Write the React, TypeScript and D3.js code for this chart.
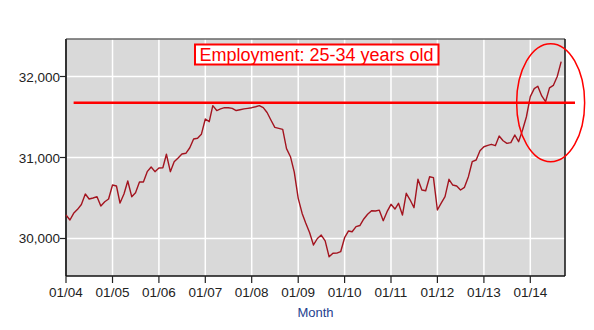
import React from "react";
import * as d3 from "d3";

// Monthly employment, 25-34 years old (thousands), Jan 2004 – Sep 2014
const startYear = 2004;
const values: number[] = [
  30290, 30228, 30311, 30360, 30420, 30549, 30488, 30500, 30516, 30401, 30454, 30488,
  30660, 30648, 30438, 30549, 30710, 30516, 30566, 30698, 30698, 30825, 30883, 30825,
  30870, 30874, 31040, 30825, 30948, 30994, 31043, 31052, 31120, 31228, 31237, 31286,
  31475, 31442, 31640, 31580, 31600, 31615, 31615, 31607, 31580, 31590, 31600, 31607,
  31615, 31627, 31640, 31615, 31555, 31460, 31372, 31360, 31348, 31110, 31010, 30820,
  30496, 30310, 30190, 30070, 29920, 30000, 30043, 29970, 29775, 29817, 29820, 29837,
  30010, 30093, 30084, 30146, 30160, 30241, 30300, 30343, 30340, 30350, 30220, 30331,
  30422, 30364, 30435, 30290, 30558, 30475, 30380, 30731, 30599, 30590, 30763, 30751,
  30352, 30440, 30516, 30731, 30660, 30648, 30599, 30632, 30763, 30948, 30969, 31084,
  31133, 31150, 31163, 31146, 31265, 31207, 31175, 31183, 31278, 31195, 31340, 31500,
  31751, 31850, 31880, 31760, 31689, 31860, 31890, 32000, 32183,
];
const yTicks: number[] = [30000, 31000, 32000];
const xTickYears: number[] = [2004, 2005, 2006, 2007, 2008, 2009, 2010, 2011, 2012, 2013, 2014];
const titleText = "Employment: 25-34 years old";
const xAxisTitle = "Month";
const refLevel = 31677;

const W = 594;
const H = 330;
const M = { left: 66, right: 565, top: 39, bottom: 276 };

export default function App() {
  const x = d3
    .scaleTime()
    .domain([new Date(2004, 0, 1), new Date(2014, 9, 1)])
    .range([M.left, M.right]);
  const y = d3.scaleLinear().domain([29537, 32463]).range([M.bottom, M.top]);

  const data = values.map((v, i) => ({ date: new Date(startYear, i, 1), v }));
  const line = d3
    .line<{ date: Date; v: number }>()
    .x((d) => x(d.date))
    .y((d) => y(d.v));

  const fmt = d3.format(",");
  const tickFmt = (yr: number) => "01/" + String(yr % 100).padStart(2, "0");
  const font = "Arial, 'Liberation Sans', sans-serif";

  const cx = (M.left + M.right) / 2;
  const ellX = x(new Date(2014, 5, 10));
  const ellY = y(refLevel);

  return (
    <svg
      width={W}
      height={H}
      style={{ position: "absolute", left: 0, top: 0, background: "#fff" }}
      fontFamily={font}
    >
      <rect x={M.left} y={M.top} width={M.right - M.left} height={M.bottom - M.top} fill="#d9d9d9" />
      {/* grid */}
      {xTickYears.map((yr) => (
        <line
          key={"gx" + yr}
          x1={x(new Date(yr, 0, 1))}
          x2={x(new Date(yr, 0, 1))}
          y1={M.top}
          y2={M.bottom}
          stroke="#fff"
          strokeWidth={1.5}
        />
      ))}
      {yTicks.map((t) => (
        <line key={"gy" + t} x1={M.left} x2={M.right} y1={y(t)} y2={y(t)} stroke="#fff" strokeWidth={1.5} />
      ))}
      {/* frame */}
      <line x1={M.left} x2={M.right} y1={M.top} y2={M.top} stroke="#666" strokeWidth={1.5} />
      <line x1={M.right} x2={M.right} y1={M.top} y2={M.bottom} stroke="#111" strokeWidth={1.5} />
      <line x1={M.left} x2={M.left} y1={M.top} y2={M.bottom} stroke="#333" strokeWidth={2} />
      <line x1={M.left} x2={M.right} y1={M.bottom} y2={M.bottom} stroke="#111" strokeWidth={1.5} />
      {/* y ticks */}
      {yTicks.map((t) => (
        <g key={"ty" + t}>
          <line x1={M.left - 6} x2={M.left} y1={y(t)} y2={y(t)} stroke="#222" strokeWidth={1.2} />
          <text x={M.left - 6} y={y(t) + 5} textAnchor="end" fontSize={13.5} fill="#222">
            {fmt(t)}
          </text>
        </g>
      ))}
      {/* x ticks */}
      {xTickYears.map((yr) => {
        const px = x(new Date(yr, 0, 1));
        return (
          <g key={"tx" + yr}>
            <line x1={px} x2={px} y1={M.bottom} y2={M.bottom + 7} stroke="#222" strokeWidth={1.2} />
            <text x={px} y={M.bottom + 21} textAnchor="middle" fontSize={13.5} fill="#222">
              {tickFmt(yr)}
            </text>
          </g>
        );
      })}
      <text x={cx} y={317} textAnchor="middle" fontSize={13} fill="#1f3f8f">
        {xAxisTitle}
      </text>
      {/* series */}
      <path d={line(data) || ""} fill="none" stroke="#a3141f" strokeWidth={1.4} strokeLinejoin="round" />
      {/* annotations */}
      <line
        x1={x(new Date(2004, 2, 1))}
        x2={M.right + 10}
        y1={y(refLevel)}
        y2={y(refLevel)}
        stroke="#ff0000"
        strokeWidth={2.5}
      />
      <ellipse cx={ellX} cy={ellY} rx={34} ry={59} fill="none" stroke="#ff0000" strokeWidth={1.5} />
      <rect x={195} y={44.5} width={243.5} height={20} fill="#fff" stroke="#ff0000" strokeWidth={2} />
      <text x={316.5} y={61} textAnchor="middle" fontSize={18} fill="#ff0000">
        {titleText}
      </text>
    </svg>
  );
}
